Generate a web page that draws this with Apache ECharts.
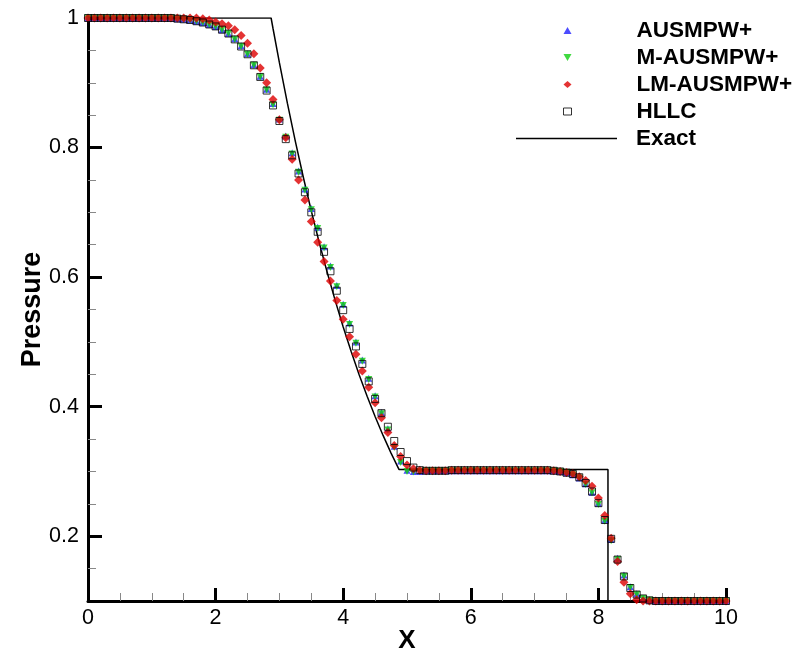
<!DOCTYPE html>
<html>
<head>
<meta charset="utf-8">
<script src="https://cdn.jsdelivr.net/npm/echarts@6/dist/echarts.min.js"></script>
<style>
  html, body { margin: 0; padding: 0; background: #fff; }
  #chart { width: 804px; height: 650px; }
</style>
</head>
<body>
<div id="chart"></div>
<script>
// ---- data ----
const xValues = [
  0.0,0.1,0.2,0.3,0.4,0.5,0.6,0.7,0.8,0.9,
  1.0,1.1,1.2,1.3,1.4,1.5,1.6,1.7,1.8,1.9,
  2.0,2.1,2.2,2.3,2.4,2.5,2.6,2.7,2.8,2.9,
  3.0,3.1,3.2,3.3,3.4,3.5,3.6,3.7,3.8,3.9,
  4.0,4.1,4.2,4.3,4.4,4.5,4.6,4.7,4.8,4.9,
  5.0,5.1,5.2,5.3,5.4,5.5,5.6,5.7,5.8,5.9,
  6.0,6.1,6.2,6.3,6.4,6.5,6.6,6.7,6.8,6.9,
  7.0,7.1,7.2,7.3,7.4,7.5,7.6,7.7,7.8,7.9,
  8.0,8.1,8.2,8.3,8.4,8.5,8.6,8.7,8.8,8.9,
  9.0,9.1,9.2,9.3,9.4,9.5,9.6,9.7,9.8,9.9,
  10.0
];

const ausmpwP = [
  1,1,1,1,1,1,1,1,1,1,
  1,1,1,1,0.999,0.998,0.997,0.995,0.993,0.990,
  0.987,0.982,0.976,0.968,0.957,0.945,0.928,0.910,0.890,0.868,
  0.844,0.818,0.792,0.764,0.736,0.706,0.677,0.647,0.617,0.587,
  0.558,0.529,0.500,0.472,0.444,0.417,0.391,0.366,0.339,0.316,
  0.302,0.300,0.300,0.301,0.301,0.301,0.301,0.301,0.301,0.301,
  0.301,0.301,0.301,0.301,0.301,0.301,0.301,0.301,0.301,0.301,
  0.301,0.301,0.301,0.301,0.300,0.298,0.295,0.290,0.281,0.268,
  0.251,0.225,0.195,0.166,0.140,0.122,0.111,0.104,0.101,0.100,
  0.100,0.100,0.100,0.100,0.100,0.100,0.100,0.100,0.100,0.100,
  0.100
];

const mAusmpwP = [
  1,1,1,1,1,1,1,1,1,1,
  1,1,1,1,0.999,0.998,0.997,0.995,0.993,0.990,
  0.987,0.982,0.976,0.967,0.956,0.944,0.927,0.909,0.889,0.866,
  0.842,0.816,0.790,0.762,0.734,0.704,0.675,0.645,0.615,0.585,
  0.556,0.527,0.498,0.470,0.442,0.415,0.389,0.364,0.337,0.314,
  0.300,0.299,0.300,0.301,0.301,0.301,0.301,0.301,0.301,0.301,
  0.301,0.301,0.301,0.301,0.301,0.301,0.301,0.301,0.301,0.301,
  0.301,0.301,0.301,0.301,0.300,0.298,0.295,0.290,0.280,0.267,
  0.249,0.223,0.193,0.164,0.138,0.121,0.110,0.104,0.101,0.100,
  0.100,0.100,0.100,0.100,0.100,0.100,0.100,0.100,0.100,0.100,
  0.100
];

const lmAusmpwP = [
  1,1,1,1,1,1,1,1,1,1,
  1,1,1,1,1,1,1,1,0.999,0.997,
  0.994,0.991,0.988,0.982,0.973,0.961,0.945,0.923,0.900,0.874,
  0.843,0.815,0.782,0.750,0.719,0.686,0.654,0.624,0.594,0.564,
  0.535,0.508,0.481,0.455,0.430,0.406,0.383,0.360,0.340,0.323,
  0.310,0.304,0.302,0.301,0.301,0.301,0.301,0.302,0.302,0.302,
  0.302,0.302,0.302,0.302,0.302,0.302,0.302,0.302,0.302,0.302,
  0.302,0.302,0.302,0.301,0.300,0.2985,0.2965,0.292,0.286,0.277,
  0.259,0.232,0.197,0.161,0.129,0.111,0.102,0.100,0.100,0.100,
  0.100,0.100,0.100,0.100,0.100,0.100,0.100,0.100,0.100,0.100,
  0.100
];

const hllcP = [
  1,1,1,1,1,1,1,1,1,1,
  1,1,1,1,0.999,0.998,0.997,0.995,0.993,0.990,
  0.987,0.982,0.976,0.967,0.956,0.944,0.927,0.909,0.888,0.865,
  0.841,0.813,0.788,0.760,0.731,0.700,0.670,0.639,0.609,0.579,
  0.549,0.520,0.493,0.466,0.439,0.412,0.390,0.369,0.347,0.330,
  0.316,0.306,0.302,0.301,0.301,0.301,0.301,0.302,0.302,0.302,
  0.302,0.302,0.302,0.302,0.302,0.302,0.302,0.302,0.302,0.302,
  0.302,0.302,0.302,0.301,0.300,0.298,0.296,0.291,0.282,0.269,
  0.251,0.225,0.196,0.164,0.138,0.120,0.110,0.104,0.101,0.100,
  0.100,0.100,0.100,0.100,0.100,0.100,0.100,0.100,0.100,0.100,
  0.100
];

const exactX = [0, 2.87, 2.9, 3.0, 3.125, 3.25, 3.375, 3.5, 3.625, 3.75, 3.875, 4.0,
                4.125, 4.25, 4.375, 4.5, 4.625, 4.75, 4.874, 8.15, 8.15, 10];
const exactP = [1, 1, 0.9838, 0.9310, 0.8685, 0.8096, 0.7542, 0.7020, 0.6530, 0.6070, 0.5637, 0.5231,
                0.4850, 0.4494, 0.4160, 0.3848, 0.3556, 0.3283, 0.3031, 0.3031, 0.1, 0.1];

const seriesNames = ['AUSMPW+', 'M-AUSMPW+', 'LM-AUSMPW+', 'HLLC', 'Exact'];
const yMajorTicks = [0.2, 0.4, 0.6, 0.8, 1];
const yMinorTicks = [0.15, 0.25, 0.3, 0.35, 0.45, 0.5, 0.55, 0.65, 0.7, 0.75, 0.85, 0.9, 0.95];

// ---- build ----
function pairs(xs, ys) { return xs.map((x, i) => [x, ys[i]]); }

const FONT = "'Liberation Sans', Arial, Helvetica, sans-serif";
const chart = echarts.init(document.getElementById('chart'), null, { renderer: 'canvas' });

const legendText = { fontFamily: FONT, fontSize: 22.5, fontWeight: 'bold', color: '#000', lineHeight: 22 };

const option = {
  animation: false,
  backgroundColor: '#ffffff',
  textStyle: { fontFamily: FONT },
  grid: { left: 88, right: 78, top: 18, bottom: 49, containLabel: false, outerBoundsMode: 'none' },
  legend: [
    {
      orient: 'vertical',
      left: 563,
      top: 19,
      padding: 0,
      itemWidth: 8,
      itemHeight: 7,
      itemGap: 4,
      selectedMode: false,
      textStyle: Object.assign({ padding: [0, 0, 0, 60] }, legendText),
      data: [
        { name: seriesNames[0] },
        { name: seriesNames[1] },
        { name: seriesNames[2] },
        { name: seriesNames[3], itemStyle: { borderWidth: 1, borderColor: '#000', color: 'transparent' } }
      ]
    },
    {
      orient: 'vertical',
      left: 516,
      top: 127,
      padding: 0,
      itemWidth: 101,
      itemHeight: 8,
      itemGap: 4,
      selectedMode: false,
      textStyle: Object.assign({ padding: [0, 0, 0, 14] }, legendText),
      data: [
        { name: seriesNames[4], icon: 'path://M0,0L100,0L100,1.5L0,1.5Z', itemStyle: { color: '#000' } }
      ]
    }
  ],
  xAxis: {
    type: 'value',
    min: 0, max: 10, interval: 2,
    name: 'X',
    nameLocation: 'middle',
    nameGap: 27,
    nameMoveOverlap: false,
    nameTextStyle: { fontFamily: FONT, fontSize: 26, fontWeight: 'bold', color: '#000' },
    axisLine: { show: true, onZero: false, lineStyle: { color: '#000', width: 3 } },
    axisTick: { show: true, inside: true, length: 13, lineStyle: { color: '#000', width: 3 } },
    minorTick: { show: true, splitNumber: 4, length: 8, lineStyle: { color: '#888', width: 1 } },
    axisLabel: { fontFamily: FONT, fontSize: 21.5, color: '#000', margin: 6 },
    splitLine: { show: false }
  },
  yAxis: [
    {
      type: 'value',
      min: 0.1, max: 1,
      name: 'Pressure',
      nameLocation: 'middle',
      nameGap: 42,
      nameMoveOverlap: false,
      nameTextStyle: { fontFamily: FONT, fontSize: 27, fontWeight: 'bold', color: '#000' },
      axisLine: { show: true, onZero: false, lineStyle: { color: '#000', width: 3 } },
      axisTick: { show: true, inside: true, length: 14, customValues: yMajorTicks, lineStyle: { color: '#000', width: 3 } },
      axisLabel: { fontFamily: FONT, fontSize: 21.5, color: '#000', margin: 9, customValues: yMajorTicks },
      splitLine: { show: false }
    },
    {
      type: 'value',
      min: 0.1, max: 1,
      position: 'left',
      axisLine: { show: false },
      axisTick: { show: true, inside: true, length: 8, customValues: yMinorTicks, lineStyle: { color: '#888', width: 1 } },
      axisLabel: { show: false },
      splitLine: { show: false }
    }
  ],
  series: [
    {
      name: seriesNames[4],
      type: 'line',
      data: pairs(exactX, exactP),
      symbol: 'none',
      color: '#000',
      lineStyle: { color: '#000', width: 1.5 },
      z: 2
    },
    {
      name: seriesNames[0],
      type: 'scatter',
      data: pairs(xValues, ausmpwP),
      symbol: 'triangle',
      symbolSize: 7,
      itemStyle: { color: '#1f1fff' },
      z: 3
    },
    {
      name: seriesNames[1],
      type: 'scatter',
      data: pairs(xValues, mAusmpwP),
      symbol: 'path://M0,0L10,0L5,8.66Z',
      symbolSize: 7,
      itemStyle: { color: '#10d010' },
      z: 3
    },
    {
      name: seriesNames[2],
      type: 'scatter',
      data: pairs(xValues, lmAusmpwP),
      symbol: 'diamond',
      symbolSize: 9,
      itemStyle: { color: '#dd0000' },
      z: 3
    },
    {
      name: seriesNames[3],
      type: 'scatter',
      data: pairs(xValues, hllcP),
      symbol: 'rect',
      symbolSize: 7,
      itemStyle: { color: 'transparent', borderColor: '#000', borderWidth: 1 },
      z: 3
    }
  ]
};

chart.setOption(option);
</script>
</body>
</html>
